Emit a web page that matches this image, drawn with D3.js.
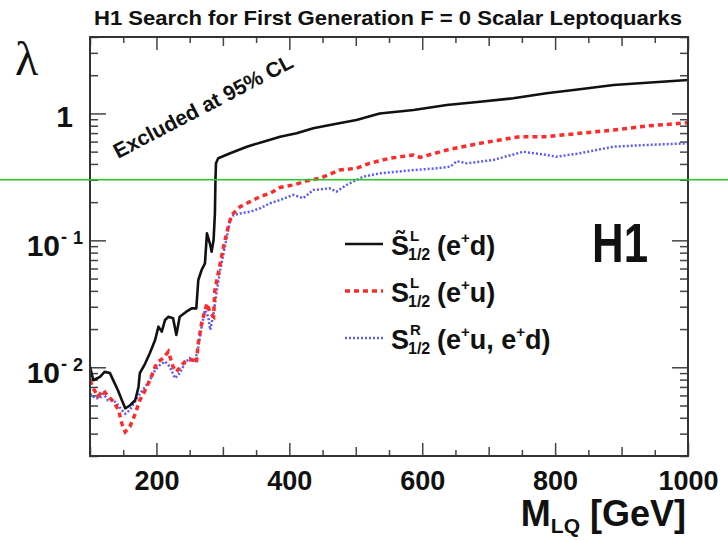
<!DOCTYPE html>
<html lang="en">
<head>
<meta charset="utf-8">
<title>H1 Search for First Generation F = 0 Scalar Leptoquarks</title>
<script src="https://d3js.org/d3.v7.min.js"></script>
<style>
  body { margin: 0; background: #fff; }
  svg { display: block; font-family: "Liberation Sans", Arial, Helvetica, sans-serif; font-weight: bold; }
</style>
</head>
<body>
<script>
// ---- values (M_LQ in GeV, lambda limit) ----
const blackMass = [100, 105, 115, 122, 130, 137, 142, 148, 153, 160, 168, 173, 175, 183, 190, 198, 203, 208, 213, 218,
  225, 230, 235, 245, 253, 260, 263, 268, 273, 276, 281, 283, 286, 288, 288.8, 289.6, 293, 311, 336, 361,
  386, 411, 436, 461, 501, 536, 587, 637, 687, 737, 787, 837, 888, 938, 1000];
const blackLambda = [0.0101, 0.0079, 0.0084, 0.0092, 0.0090, 0.0075, 0.0066, 0.0055, 0.00475, 0.0050, 0.0055, 0.0070, 0.0090, 0.0107, 0.0129, 0.0164, 0.0209, 0.0191, 0.0236, 0.0250,
  0.0243, 0.0180, 0.0250, 0.0274, 0.0291, 0.0291, 0.0487, 0.0584, 0.0659, 0.1136, 0.0919, 0.0814, 0.1006, 0.1633, 0.299, 0.405, 0.443, 0.485, 0.547, 0.599,
  0.656, 0.697, 0.763, 0.811, 0.888, 1.00, 1.064, 1.165, 1.237, 1.316, 1.44, 1.549, 1.675, 1.746, 1.834];

const redMass = [100, 105, 112, 120, 127, 135, 143, 148, 153, 160, 168, 175, 183, 190, 198, 203, 210, 218, 225, 230,
  238, 245, 255, 260, 263, 268, 276, 281, 286, 288, 296, 301, 308, 313, 326, 341, 356, 371, 386, 406,
  426, 446, 476, 501, 521, 551, 587, 597, 637, 687, 747, 787, 837, 888, 938, 1000];
const redLambda = [0.0079, 0.0068, 0.0059, 0.0066, 0.0059, 0.0054, 0.0046, 0.0036, 0.0031, 0.0034, 0.0043, 0.0055, 0.0066, 0.0079, 0.0101, 0.0111, 0.0118, 0.0133, 0.0101, 0.0092,
  0.0104, 0.0114, 0.0114, 0.0108, 0.0155, 0.0222, 0.0319, 0.0266, 0.0250, 0.0406, 0.0659, 0.0891, 0.128, 0.158, 0.184, 0.202, 0.221, 0.235, 0.261, 0.273,
  0.294, 0.308, 0.358, 0.370, 0.405, 0.443, 0.471, 0.451, 0.515, 0.582, 0.656, 0.656, 0.697, 0.740, 0.796, 0.845];

const blueMass = [100, 108, 115, 120, 127, 135, 140, 148, 153, 160, 168, 175, 183, 190, 198, 205, 213, 220, 228, 235,
  243, 250, 258, 263, 268, 273, 278, 281, 286, 291, 296, 303, 311, 316, 326, 341, 356, 371, 386, 406,
  421, 436, 461, 471, 486, 511, 536, 577, 622, 642, 652, 667, 707, 752, 787, 802, 837, 888, 938, 1000];
const blueLambda = [0.0062, 0.0057, 0.0057, 0.0062, 0.0055, 0.0055, 0.0052, 0.0046, 0.0043, 0.0046, 0.0054, 0.0062, 0.0070, 0.0079, 0.0095, 0.0104, 0.0111, 0.0101, 0.0082, 0.0090,
  0.0108, 0.0118, 0.0111, 0.0145, 0.0209, 0.0283, 0.0250, 0.0197, 0.0266, 0.0406, 0.0584, 0.0891, 0.145, 0.158, 0.163, 0.168, 0.179, 0.196, 0.208, 0.228,
  0.215, 0.249, 0.257, 0.242, 0.273, 0.317, 0.337, 0.354, 0.370, 0.380, 0.42, 0.405, 0.430, 0.499, 0.471, 0.456, 0.485, 0.547, 0.564, 0.582];

const xLabelTicks = [200, 400, 600, 800, 1000];
const yLabelTicks = [0.01, 0.1, 1];
const yLabelBase = ["10", "10", "1"];
const yLabelExp = ["2", "1", ""];
const couplingLine = 0.3;

const legendSup = ["L", "L", "R"];
const legendTail = [["(e", "+", "d)"], ["(e", "+", "u)"], ["(e", "+", "u, e", "+", "d)"]];

// ---- layout ----
const width = 728, height = 540;
const plotLeft = 90, plotRight = 688, plotTop = 37, plotBottom = 456;

const x = d3.scaleLinear().domain([100, 1000]).range([plotLeft, plotRight]);
const y = d3.scaleLog().domain([0.002, 4]).range([plotBottom, plotTop]);

const svg = d3.select('body').append('svg')
  .attr('width', width).attr('height', height);

svg.append('rect').attr('width', width).attr('height', height).attr('fill', '#fff');

// title
svg.append('text')
  .attr('x', 94).attr('y', 25)
  .attr('font-size', 21)
  .attr('textLength', 588).attr('lengthAdjust', 'spacingAndGlyphs')
  .attr('fill', '#111')
  .text('H1 Search for First Generation F = 0 Scalar Leptoquarks');

// clip for curves
svg.append('clipPath').attr('id', 'plotclip')
  .append('rect').attr('x', plotLeft).attr('y', plotTop)
  .attr('width', plotRight - plotLeft).attr('height', plotBottom - plotTop);

// ticks
const tickColor = '#444';
function styleTicks(g) {
  g.select('.domain').remove();
  g.selectAll('line').attr('stroke', tickColor).attr('stroke-width', 1.5);
  g.selectAll('text').remove();
}
const yAll = y.ticks();
const yMinor = yAll.filter(v => !yLabelTicks.some(t => Math.abs(t - v) < 1e-9));
svg.append('g').attr('transform', `translate(${plotLeft},0)`)
  .call(d3.axisRight(y).tickValues(yMinor).tickSize(8)).call(styleTicks);
svg.append('g').attr('transform', `translate(${plotLeft},0)`)
  .call(d3.axisRight(y).tickValues(yLabelTicks).tickSize(16)).call(styleTicks);
svg.append('g').attr('transform', `translate(${plotRight},0)`)
  .call(d3.axisLeft(y).tickValues(yMinor).tickSize(8)).call(styleTicks);
svg.append('g').attr('transform', `translate(${plotRight},0)`)
  .call(d3.axisLeft(y).tickValues(yLabelTicks).tickSize(16)).call(styleTicks);

const xAll = d3.range(100, 1001, 50);
const xSmall = xAll.filter(v => v % 100 !== 0);
const xMid = xAll.filter(v => v % 100 === 0 && v % 200 !== 0);
[[xSmall, 6], [xMid, 9], [xLabelTicks, 13]].forEach(([vals, size]) => {
  svg.append('g').attr('transform', `translate(0,${plotBottom})`)
    .call(d3.axisTop(x).tickValues(vals).tickSize(size)).call(styleTicks);
  svg.append('g').attr('transform', `translate(0,${plotTop})`)
    .call(d3.axisBottom(x).tickValues(vals).tickSize(size)).call(styleTicks);
});

// x tick labels
const xLab = svg.append('g').attr('transform', `translate(0,${plotBottom})`)
  .call(d3.axisBottom(x).tickValues(xLabelTicks).tickSize(0).tickPadding(15).tickFormat(d3.format('d')));
xLab.select('.domain').remove();
xLab.selectAll('text')
  .attr('font-size', 27).attr('font-family', '"Liberation Sans", Arial, sans-serif')
  .attr('font-weight', 'bold').attr('fill', '#111');

// y tick labels
yLabelTicks.forEach((v, i) => {
  const yy = y(v);
  if (yLabelExp[i] === '') {
    svg.append('text').attr('x', 73).attr('y', yy + 14)
      .attr('text-anchor', 'end').attr('font-size', 30).attr('fill', '#111')
      .text(yLabelBase[i]);
  } else {
    svg.append('text').attr('x', 60).attr('y', yy + 16)
      .attr('text-anchor', 'end').attr('font-size', 30).attr('fill', '#111')
      .text(yLabelBase[i]);
    svg.append('text').attr('x', 61).attr('y', yy + 3)
      .attr('font-size', 18).attr('fill', '#111').text('-');
    svg.append('text').attr('x', 83).attr('y', yy + 4)
      .attr('text-anchor', 'end').attr('font-size', 18).attr('fill', '#111')
      .text(yLabelExp[i]);
  }
});

// axis titles
svg.append('text').attr('x', 15).attr('y', 75)
  .attr('font-family', '"Liberation Serif", "Times New Roman", serif')
  .attr('font-weight', 'normal').attr('font-size', 48).attr('fill', '#111')
  .text('\u03bb');

const xTitle = svg.append('text').attr('x', 686).attr('y', 526)
  .attr('text-anchor', 'end').attr('font-size', 36).attr('fill', '#111');
xTitle.append('tspan').text('M');
xTitle.append('tspan').attr('font-size', 21).attr('dy', 7).text('LQ');
xTitle.append('tspan').attr('dy', -7).text(' [GeV]');

// curves
const line = d3.line().x(d => x(d[0])).y(d => y(d[1]));
const curves = svg.append('g').attr('clip-path', 'url(#plotclip)');
curves.append('path')
  .datum(blueMass.map((m, i) => [m, blueLambda[i]]))
  .attr('d', line).attr('fill', 'none')
  .attr('stroke', '#5a5aff').attr('stroke-width', 2.5).attr('stroke-dasharray', '2,2');
curves.append('path')
  .datum(redMass.map((m, i) => [m, redLambda[i]]))
  .attr('d', line).attr('fill', 'none')
  .attr('stroke', '#ff2a2a').attr('stroke-width', 3.5).attr('stroke-dasharray', '5,4');
curves.append('path')
  .datum(blackMass.map((m, i) => [m, blackLambda[i]]))
  .attr('d', line).attr('fill', 'none')
  .attr('stroke', '#111').attr('stroke-width', 2.6).attr('stroke-linejoin', 'round');

// frame
svg.append('rect')
  .attr('x', plotLeft).attr('y', plotTop)
  .attr('width', plotRight - plotLeft).attr('height', plotBottom - plotTop)
  .attr('fill', 'none').attr('stroke', '#333').attr('stroke-width', 2);

// excluded label
svg.append('text')
  .attr('transform', 'translate(118,159) rotate(-27.6)')
  .attr('font-size', 21).attr('fill', '#111')
  .text('Excluded at 95% CL');

// H1 logo
svg.append('text').attr('x', 592).attr('y', 262)
  .attr('font-size', 56).attr('textLength', 56).attr('lengthAdjust', 'spacingAndGlyphs')
  .attr('fill', '#111').text('H1');

// legend
const legendY = [244, 291, 338];
const legendStroke = [['#111', 2.6, null], ['#ff2a2a', 3.5, '5,4'], ['#5a5aff', 2.5, '2,2']];
legendY.forEach((ly, i) => {
  const seg = svg.append('line').attr('x1', 345).attr('x2', 383).attr('y1', ly).attr('y2', ly)
    .attr('stroke', legendStroke[i][0]).attr('stroke-width', legendStroke[i][1]);
  if (legendStroke[i][2]) seg.attr('stroke-dasharray', legendStroke[i][2]);
  const base = ly + 11;
  svg.append('text').attr('x', 391).attr('y', base).attr('font-size', 27).attr('fill', '#111')
    .text(i === 0 ? 'S\u0303' : 'S');
  svg.append('text').attr('x', 410).attr('y', base - 14).attr('font-size', 15).attr('fill', '#111')
    .text(legendSup[i]);
  svg.append('text').attr('x', 408).attr('y', base + 5).attr('font-size', 16).attr('fill', '#111')
    .text('1/2');
  const t = svg.append('text').attr('x', 437).attr('y', base).attr('font-size', 27).attr('fill', '#111');
  let raised = false;
  legendTail[i].forEach(part => {
    if (part === '+') {
      t.append('tspan').attr('font-size', 15).attr('dy', -12).text('+');
      raised = true;
    } else {
      t.append('tspan').attr('dy', raised ? 12 : 0).text(part);
      raised = false;
    }
  });
});

// coupling reference line
svg.append('line')
  .attr('x1', 0).attr('x2', width).attr('y1', y(couplingLine)).attr('y2', y(couplingLine))
  .attr('stroke', '#22cc22').attr('stroke-width', 1.6);
</script>
</body>
</html>
